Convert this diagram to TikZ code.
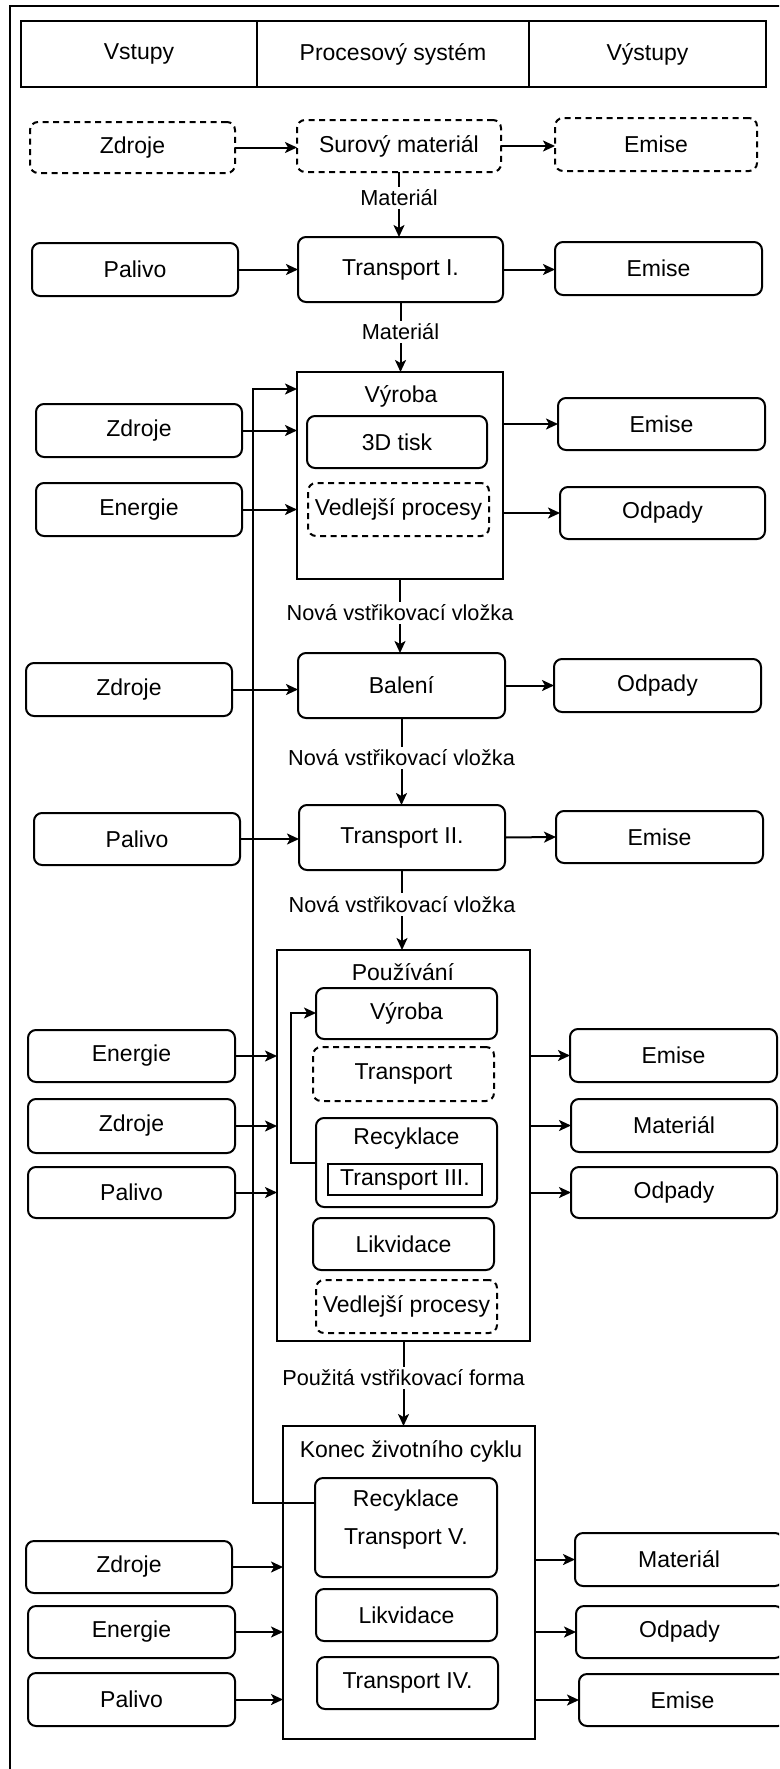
\documentclass[tikz,border=0pt]{standalone}
\usepackage{fontspec}
\setmainfont{Liberation Sans}
\usetikzlibrary{arrows.meta}
\newcommand\fsbox{\fontsize{23}{27}\selectfont}
\newcommand\fslbl{\fontsize{21.7}{26}\selectfont}
\tikzset{
  wh/.style 2 args={minimum width=#1pt, minimum height=#2pt},
  box/.style={draw, rounded corners=8pt, line width=2pt, inner sep=0pt, outer sep=0pt, font=\fsbox},
  dbox/.style={box, dash pattern=on 6pt off 4.5pt},
  cell/.style={draw, line width=2pt, inner sep=0pt, outer sep=0pt, font=\fsbox},
  frame/.style={draw, line width=2pt, inner sep=0pt, outer sep=0pt},
  txt/.style={inner sep=0pt, font=\fsbox},
  lbl/.style={fill=white, inner sep=3pt, font=\fslbl},
  arr/.style={line width=2pt, -{Stealth[length=12pt, width=11pt, inset=3pt]}},
  ln/.style={line width=2pt},
}
\begin{document}
\begin{tikzpicture}[x=1pt, y=-1pt]
\useasboundingbox (0,0) rectangle (779,1769);
\fill[white] (0,0) rectangle (779,1769);
\clip (0,0) rectangle (779,1769);
% outer frame
\draw[ln] (10,6) rectangle (820,1820);

% header
\node[cell, wh={236}{66}] (h1) at (139,54) {Vstupy};
\node[cell, wh={272}{66}] (h2) at (393,54) {Procesový systém};
\node[cell, wh={237}{66}] (h3) at (647.5,54) {Výstupy};

% raw material row
\node[dbox, wh={205}{51}] (z1) at (132.5,147.5) {Zdroje};
\node[dbox, wh={204}{52}] (sm) at (399,146) {Surový materiál};
\node[dbox, wh={202}{53}] (e1) at (656,144.5) {Emise};
\draw[arr] (z1.east) -- (z1.east -| sm.west);
\draw[arr] (sm.east) -- (sm.east -| e1.west);

% transport I
\node[box, wh={206}{53}] (p2) at (135,269.5) {Palivo};
\node[box, wh={205}{65}] (t1) at (400.5,269.5) {Transport I.};
\node[box, wh={207}{53}] (e2) at (658.5,268.5) {Emise};
\draw[arr] (p2.east) -- (p2.east -| t1.west);
\draw[arr] (t1.east) -- (t1.east -| e2.west);
\draw[arr] (sm.south) -- (sm.south |- t1.north) node[lbl, pos=0.4] (m1) {Materiál};

% production
\node[frame, wh={206}{207}] (vy) at (400,475.5) {};
\node[txt] (vyt) at (401,396) {Výroba};
\node[box, wh={180}{52}] (tisk) at (397,442) {3D tisk};
\node[dbox, wh={181}{53}] (ved1) at (398.5,509.5) {Vedlejší procesy};
\node[box, wh={206}{53}] (z3) at (139,430.5) {Zdroje};
\node[box, wh={206}{53}] (en3) at (139,509.5) {Energie};
\node[box, wh={207}{52}] (e3) at (661.5,424) {Emise};
\node[box, wh={205}{52}] (o3) at (662.5,513) {Odpady};
\draw[arr] (t1.south) -- (t1.south |- vy.north) node[lbl, pos=0.43] (m2) {Materiál};
\draw[arr] (z3.east) -- (z3.east -| vy.west);
\draw[arr] (en3.east) -- (en3.east -| vy.west);
\draw[arr] (e3.west -| vy.east) -- (e3.west);
\draw[arr] (o3.west -| vy.east) -- (o3.west);

% packaging
\node[box, wh={207}{65}] (ba) at (401.5,685.5) {Balení};
\node[box, wh={206}{53}] (z4) at (129,689.5) {Zdroje};
\node[box, wh={207}{53}] (o4) at (657.5,685.5) {Odpady};
\draw[arr] (vy.south) -- (vy.south |- ba.north) node[lbl, pos=0.46] (n1) {Nová vstřikovací vložka};
\draw[arr] (z4.east) -- (z4.east -| ba.west);
\draw[arr] (ba.east) -- (ba.east -| o4.west);

% transport II
\node[box, wh={206}{65}] (t2) at (402,837.5) {Transport II.};
\node[box, wh={206}{52}] (p5) at (137,839) {Palivo};
\node[box, wh={207}{52}] (e5) at (659.5,837) {Emise};
\draw[arr] (ba.south) -- (ba.south |- t2.north) node[lbl, pos=0.46] (n2) {Nová vstřikovací vložka};
\draw[arr] (p5.east) -- (p5.east -| t2.west);
\draw[arr] (t2.east) -- (e5.west);

% use phase
\node[frame, wh={253}{391}] (pu) at (403.5,1145.5) {};
\node[txt] (put) at (403,972) {Používání};
\node[box, wh={181}{51}] (iv) at (406.5,1013.5) {Výroba};
\node[dbox, wh={181}{54}] (it) at (403.5,1074) {Transport};
\node[box, wh={181}{89}] (ir) at (406.5,1162.5) {};
\node[txt] (irt) at (406.5,1139) {Recyklace};
\node[cell, wh={154}{31}, line width=2.4pt] (t3) at (405,1179.5) {Transport III.};
\node[box, wh={181}{52}] (il) at (403.5,1244) {Likvidace};
\node[dbox, wh={181}{53}] (ved2) at (406.5,1306.5) {Vedlejší procesy};
\node[box, wh={207}{52}] (en6) at (131.5,1056) {Energie};
\node[box, wh={207}{54}] (z6) at (131.5,1126) {Zdroje};
\node[box, wh={207}{51}] (p6) at (131.5,1192.5) {Palivo};
\node[box, wh={207}{53}] (e6) at (673.5,1055.5) {Emise};
\node[box, wh={206}{53}] (m6) at (674,1125.5) {Materiál};
\node[box, wh={206}{51}] (o6) at (674,1192.5) {Odpady};
\draw[arr] (t2.south) -- (t2.south |- pu.north) node[lbl, pos=0.43] (n3) {Nová vstřikovací vložka};
\draw[arr] (en6.east) -- (en6.east -| pu.west);
\draw[arr] (z6.east) -- (z6.east -| pu.west);
\draw[arr] (p6.east) -- (p6.east -| pu.west);
\draw[arr] (e6.west -| pu.east) -- (e6.west);
\draw[arr] (m6.west -| pu.east) -- (m6.west);
\draw[arr] (o6.west -| pu.east) -- (o6.west);
\coordinate (lp) at (291,1013);
\draw[arr] (ir.west) -- (ir.west -| lp) -- (lp) -- (lp -| iv.west);

% end of life
\node[frame, wh={252}{313}] (ko) at (409,1582.5) {};
\node[txt] (kot) at (411,1451) {Konec životního cyklu};
\node[box, wh={182}{99}] (kr) at (406,1527.5) {};
\node[txt] (krt1) at (406,1501) {Recyklace};
\node[txt] (krt2) at (406,1539) {Transport V.};
\node[box, wh={181}{52}] (kl) at (406.5,1615) {Likvidace};
\node[box, wh={181}{52}] (kt) at (407.5,1683) {Transport IV.};
\node[box, wh={206}{52}] (z7) at (129,1567) {Zdroje};
\node[box, wh={207}{52}] (en7) at (131.5,1632) {Energie};
\node[box, wh={207}{53}] (p7) at (131.5,1699.5) {Palivo};
\node[box, wh={208}{53}] (m7) at (679,1559.5) {Materiál};
\node[box, wh={207}{52}] (o7) at (679.5,1632) {Odpady};
\node[box, wh={207}{52}] (e7) at (682.5,1700) {Emise};
\draw[arr] (pu.south) -- (pu.south |- ko.north) node[lbl, pos=0.435] (uf) {Použitá vstřikovací forma};
\draw[arr] (z7.east) -- (z7.east -| ko.west);
\draw[arr] (en7.east) -- (en7.east -| ko.west);
\draw[arr] (p7.east) -- (p7.east -| ko.west);
\draw[arr] (m7.west -| ko.east) -- (m7.west);
\draw[arr] (o7.west -| ko.east) -- (o7.west);
\draw[arr] (e7.west -| ko.east) -- (e7.west);

% recycled material fed back to production
\coordinate (fb1) at (253,1503);
\coordinate (fb2) at (253,389);
\draw[arr] (fb1 -| kr.west) -- (fb1) -- (fb2) -- (fb2 -| vy.west);
\end{tikzpicture}
\end{document}
